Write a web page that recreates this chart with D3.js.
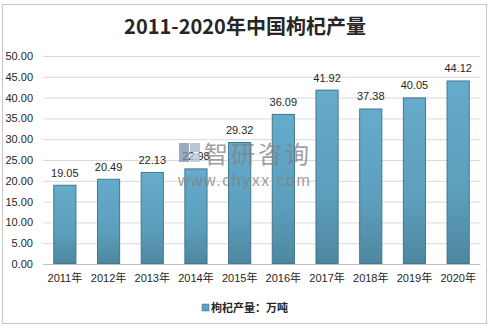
<!DOCTYPE html>
<html><head><meta charset="utf-8">
<script src="https://cdn.jsdelivr.net/npm/d3@7/dist/d3.min.js"></script>
<style>body{margin:0;background:#fff}svg{display:block}</style>
</head><body>
<svg id="c" width="491" height="330"></svg>
<script>
const categories = ["2011年","2012年","2013年","2014年","2015年","2016年","2017年","2018年","2019年","2020年"];
const values = [19.05,20.49,22.13,22.98,29.32,36.09,41.92,37.38,40.05,44.12];
const yTicks = [0,5,10,15,20,25,30,35,40,45,50];
const titleText = "2011-2020年中国枸杞产量";
const legendText = "枸杞产量：万吨";

const svg = d3.select("#c");
const font = "'Liberation Sans','Noto Sans CJK SC',sans-serif";
svg.append("rect").attr("x",2.5).attr("y",4.5).attr("width",484).attr("height",319)
  .attr("fill","#fff").attr("stroke","#c8c8c8");

const defs = svg.append("defs");
const g1 = defs.append("linearGradient").attr("id","bg").attr("x1",0).attr("y1",0).attr("x2",0).attr("y2",1);
g1.append("stop").attr("offset","0%").attr("stop-color","#66abcb");
g1.append("stop").attr("offset","60%").attr("stop-color","#5c9fbd");
g1.append("stop").attr("offset","100%").attr("stop-color","#4e879f");

const x = d3.scaleBand().domain(categories).range([43,480]).paddingInner(0.47).paddingOuter(0.235);
const y = d3.scaleLinear().domain([0,50]).range([264,56]);

svg.append("text").attr("x",245).attr("y",34).attr("text-anchor","middle")
  .attr("font-family","'Noto Sans CJK SC',sans-serif").attr("font-weight","bold")
  .attr("font-size",20).attr("fill","#262626").text(titleText);

const ya = svg.append("g").attr("transform","translate(43,0)")
  .call(d3.axisLeft(y).tickValues(yTicks).tickSize(-437).tickFormat(d3.format(".2f")));
ya.select(".domain").remove();
ya.selectAll(".tick line").attr("stroke","#d9d9d9");
ya.selectAll(".tick text").attr("x",-10).attr("font-family",font).attr("font-size",11).attr("fill","#262626");

const xa = svg.append("g").attr("transform","translate(0,264)")
  .call(d3.axisBottom(x).tickSize(0).tickPadding(10));
xa.select(".domain").attr("stroke","#bfbfbf");
xa.selectAll(".tick text").attr("font-family",font).attr("font-size",11).attr("fill","#262626");

svg.append("g").selectAll("rect").data(values).join("rect")
  .attr("x",(d,i)=>x(categories[i])+0.5).attr("y",d=>y(d)+0.5)
  .attr("width",x.bandwidth()-1).attr("height",d=>y(0)-y(d)-1)
  .attr("fill","url(#bg)").attr("stroke","#41778f").attr("stroke-width",1);

svg.append("g").selectAll("text").data(values).join("text")
  .attr("x",(d,i)=>x(categories[i])+x.bandwidth()/2).attr("y",d=>y(d)-8)
  .attr("text-anchor","middle").attr("font-family",font).attr("font-size",11).attr("fill","#262626")
  .text(d=>d.toFixed(2));

// watermark
const wm = svg.append("g").attr("opacity",0.75);
wm.append("rect").attr("x",179).attr("y",143).attr("width",10).attr("height",19).attr("fill","#7a8fb0");
wm.append("rect").attr("x",190).attr("y",143).attr("width",10).attr("height",9).attr("fill","#9fb4cf");
wm.append("rect").attr("x",190).attr("y",153).attr("width",10).attr("height",9).attr("fill","#b8c4d6");
wm.append("text").attr("x",204).attr("y",163).attr("font-family","'Noto Sans CJK SC',sans-serif")
  .attr("font-size",24).attr("letter-spacing",3).attr("fill","#808080").text("智研咨询");
wm.append("text").attr("x",178).attr("y",186).attr("font-family",font)
  .attr("font-size",16).attr("letter-spacing",1.5).attr("fill","#808080").text("www.chyxx.com");

// legend
svg.append("rect").attr("x",202).attr("y",304).attr("width",7).attr("height",7)
  .attr("fill","#5c9fbd").attr("stroke","#41778f").attr("stroke-width",0.5);
svg.append("text").attr("x",211).attr("y",312).attr("font-family","'Noto Sans CJK SC',sans-serif")
  .attr("font-weight","bold").attr("font-size",11).attr("fill","#262626").text(legendText);
</script>
</body></html>
